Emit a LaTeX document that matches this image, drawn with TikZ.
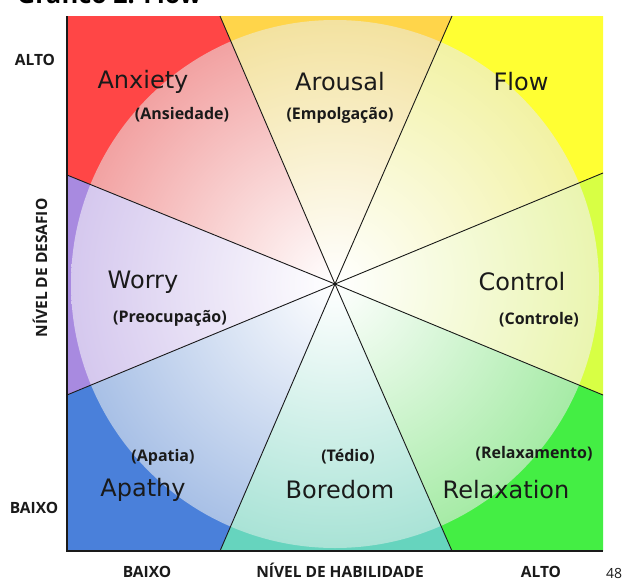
\documentclass[tikz,border=0pt]{standalone}
\usepackage{fontspec}
\newfontfamily\mainlab{DejaVu Sans}
\newfontfamily\sublab{Open Sans}
\definecolor{cRed}{HTML}{FF4646}
\definecolor{pRed}{HTML}{F2A2A2}
\definecolor{cGold}{HTML}{FFD54A}
\definecolor{pGold}{HTML}{F3E2A0}
\definecolor{cYel}{HTML}{FFFF33}
\definecolor{pYel}{HTML}{F2F2A4}
\definecolor{cYG}{HTML}{D8FF44}
\definecolor{pYG}{HTML}{EAF5B0}
\definecolor{cGrn}{HTML}{44EE44}
\definecolor{pGrn}{HTML}{A6EBA6}
\definecolor{cTeal}{HTML}{66D4BE}
\definecolor{pTeal}{HTML}{A9E3D6}
\definecolor{cBlue}{HTML}{4A80DA}
\definecolor{pBlue}{HTML}{A8C0E6}
\definecolor{cPur}{HTML}{A88AE0}
\definecolor{pPur}{HTML}{D5C8EE}
\definecolor{ink}{HTML}{1A1A1A}
\newcommand\flowsector[3]{%
  \begin{scope}
    \clip #3;
    \fill[#1] #3;
    \shade[inner color=white, outer color=#2] (C) circle (264);
  \end{scope}}
\begin{document}
\begin{tikzpicture}[x=1pt,y=-1pt,
  big/.style={font=\mainlab\fontsize{24}{24}\selectfont, text=ink, inner sep=0pt},
  small/.style={font=\sublab\bfseries\fontsize{16}{16}\selectfont, text=ink, inner sep=0pt},
  axlab/.style={font=\sublab\bfseries\fontsize{15.5}{15.5}\selectfont, text=ink, inner sep=0pt},
  divider/.style={draw=ink, line width=0.9pt},
  axisline/.style={draw=ink, line width=1.8pt}]
\useasboundingbox (0,0) rectangle (622,581);
\clip (0,0) rectangle (622,581);
\fill[white] (0,0) rectangle (622,581);
\coordinate (C) at (335,284);
\coordinate (TL) at (67,16);
\coordinate (TR) at (603,16);
\coordinate (BL) at (67,551);
\coordinate (BR) at (603,551);
\coordinate (t1) at (220,16);
\coordinate (t2) at (452,16);
\coordinate (b1) at (220,551);
\coordinate (b2) at (452,551);
\coordinate (l1) at (67,175);
\coordinate (l2) at (67,395);
\coordinate (r1) at (603,173);
\coordinate (r2) at (603,395);
% sectors
\flowsector{cRed}{pRed}{(C) -- (l1) -- (TL) -- (t1) -- cycle}
\flowsector{cGold}{pGold}{(C) -- (t1) -- (t2) -- cycle}
\flowsector{cYel}{pYel}{(C) -- (t2) -- (TR) -- (r1) -- cycle}
\flowsector{cYG}{pYG}{(C) -- (r1) -- (r2) -- cycle}
\flowsector{cGrn}{pGrn}{(C) -- (r2) -- (BR) -- (b2) -- cycle}
\flowsector{cTeal}{pTeal}{(C) -- (b2) -- (b1) -- cycle}
\flowsector{cBlue}{pBlue}{(C) -- (b1) -- (BL) -- (l2) -- cycle}
\flowsector{cPur}{pPur}{(C) -- (l2) -- (l1) -- cycle}
% dividers
\foreach \p in {t1,t2,b1,b2,l1,l2,r1,r2} \draw[divider] (C) -- (\p);
% axes
\draw[axisline] (TL) -- (BL) -- (BR);
% title (cut off at the top, as in the reference)
\node[anchor=base west, font=\sublab\bfseries\fontsize{25}{25}\selectfont, inner sep=0pt] (title) at (17,3) {Gráfico 2: Flow};
% sector labels
\node[big] (anx) at (143,82) {Anxiety};
\node[small] (anxp) at (182,115) {(Ansiedade)};
\node[big] (aro) at (340,82) {Arousal};
\node[small] (arop) at (340,115) {(Empolgação)};
\node[big] (flow) at (521,82) {Flow};
\node[big] (wor) at (143,282) {Worry};
\node[small] (worp) at (170,318) {(Preocupação)};
\node[big] (con) at (522,282) {Control};
\node[small] (conp) at (539,320) {(Controle)};
\node[small] (apap) at (163,457) {(Apatia)};
\node[big] (apa) at (143,490) {Apathy};
\node[small] (borp) at (348,457) {(Tédio)};
\node[big] (bor) at (340,490) {Boredom};
\node[small] (relp) at (534,454) {(Relaxamento)};
\node[big] (rel) at (506,490) {Relaxation};
% axis labels
\node[axlab] (yhi) at (35,60) {ALTO};
\node[axlab] (ylo) at (34,508) {BAIXO};
\node[axlab, rotate=90] (ytit) at (40,268) {NÍVEL DE DESAFIO};
\node[axlab, anchor=base] (xlo) at (147,577) {BAIXO};
\node[axlab, anchor=base] (xtit) at (340,577) {NÍVEL DE HABILIDADE};
\node[axlab, anchor=base] (xhi) at (541,577) {ALTO};
\node[font=\sublab\fontsize{14}{14}\selectfont, text=ink, anchor=base west, inner sep=0pt] (pg) at (606,578) {48};
\end{tikzpicture}
\end{document}
